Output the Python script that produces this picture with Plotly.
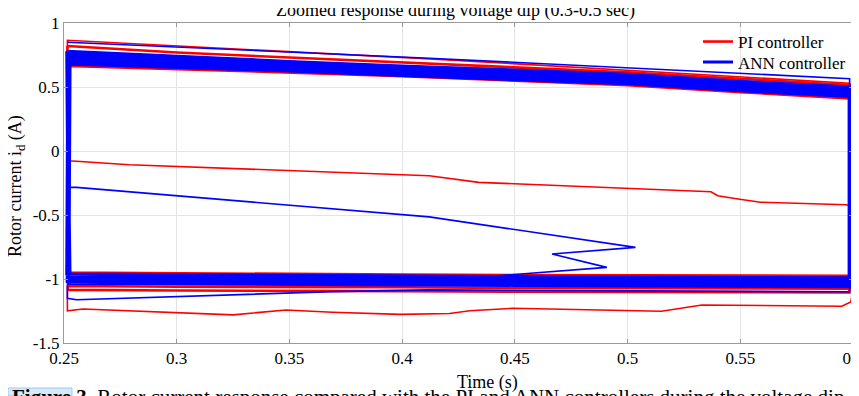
import plotly.graph_objects as go

# ---------------- data ----------------
x_tick_vals = [0.25, 0.3, 0.35, 0.4, 0.45, 0.5, 0.55, 0.6]
x_tick_text = ["0.25", "0.3", "0.35", "0.4", "0.45", "0.5", "0.55", "0.6"]
y_tick_vals = [-1.5, -1.0, -0.5, 0.0, 0.5, 1.0]
y_tick_text = ["-1.5", "-1", "-0.5", "0", "0.5", "1"]

# inner time knots of the repeated sweeps (s)
sweep_mid_t = [0.30, 0.35, 0.40, 0.45, 0.50, 0.55]

# ANN controller sweeps: start/end times and upper/lower current traces (A)
ann_left_t = [0.2512, 0.2517, 0.2522, 0.2527, 0.2514, 0.2520]
ann_right_t = [0.5985, 0.5988, 0.5983, 0.5990, 0.5986, 0.5984]
ann_upper = [
    [0.78, 0.74, 0.70, 0.665, 0.63, 0.60, 0.545, 0.50],
    [0.76, 0.72, 0.685, 0.65, 0.615, 0.585, 0.53, 0.485],
    [0.74, 0.70, 0.67, 0.635, 0.60, 0.57, 0.515, 0.47],
    [0.72, 0.685, 0.655, 0.62, 0.585, 0.555, 0.50, 0.455],
    [0.70, 0.67, 0.64, 0.605, 0.57, 0.54, 0.485, 0.44],
    [0.68, 0.655, 0.625, 0.59, 0.555, 0.525, 0.47, 0.425],
]
ann_lower = [
    [-0.96, -0.965, -0.97, -0.975, -0.98, -0.985, -0.99, -0.99],
    [-0.975, -0.98, -0.985, -0.99, -0.995, -1.0, -1.005, -1.005],
    [-0.99, -0.995, -1.0, -1.005, -1.01, -1.015, -1.02, -1.02],
    [-1.005, -1.01, -1.015, -1.02, -1.025, -1.03, -1.035, -1.035],
    [-1.02, -1.025, -1.03, -1.035, -1.04, -1.045, -1.05, -1.05],
    [-1.035, -1.04, -1.04, -1.045, -1.05, -1.055, -1.06, -1.06],
]

# PI controller sweeps: start/end times and upper/lower current traces (A)
pi_left_t = [0.2515, 0.2519, 0.2523, 0.2517]
pi_right_t = [0.5985, 0.5983, 0.5987, 0.5984]
pi_upper = [
    [0.82, 0.77, 0.73, 0.69, 0.65, 0.615, 0.565, 0.515],
    [0.75, 0.715, 0.68, 0.645, 0.61, 0.575, 0.525, 0.475],
    [0.69, 0.66, 0.63, 0.60, 0.565, 0.53, 0.48, 0.435],
    [0.665, 0.64, 0.615, 0.585, 0.55, 0.515, 0.46, 0.41],
]
pi_lower = [
    [-0.95, -0.955, -0.96, -0.965, -0.97, -0.975, -0.975, -0.975],
    [-1.0, -1.005, -1.01, -1.01, -1.015, -1.02, -1.02, -1.02],
    [-1.055, -1.06, -1.065, -1.065, -1.07, -1.07, -1.075, -1.075],
    [-1.085, -1.09, -1.095, -1.095, -1.10, -1.10, -1.105, -1.105],
]

# PI controller single excursions (thin path)
pi_path_t = [0.2515, 0.2515, 0.2585, 0.325, 0.3485, 0.369, 0.399, 0.421, 0.430,
             0.449, 0.515, 0.533, 0.595, 0.599, 0.5995, 0.5995, 0.597, 0.559,
             0.549, 0.540, 0.537, 0.434, 0.412, 0.310, 0.279, 0.2556, 0.252,
             0.2515, 0.2515, 0.412, 0.5985, 0.5985]
pi_path_i = [-1.10, -1.248, -1.234, -1.28, -1.242, -1.26, -1.276, -1.27, -1.248,
             -1.229, -1.252, -1.203, -1.213, -1.18, -1.13, -0.43, -0.42, -0.40,
             -0.375, -0.349, -0.318, -0.245, -0.193, -0.128, -0.107, -0.08, -0.076,
             -0.076, 0.865, 0.72, 0.53, 0.45]

# ANN controller single excursions (thin path, None = break)
ann_path_t = [0.2515, 0.412, 0.5985, 0.5985, None,
              0.2515, 0.2556, 0.412, 0.5035, 0.4665, 0.4908, 0.431, None,
              0.2515, 0.2515, 0.2556, 0.31, 0.369, 0.412, 0.50, 0.5985, 0.5985]
ann_path_i = [0.85, 0.725, 0.565, 0.50, None,
              -0.284, -0.284, -0.515, -0.753, -0.805, -0.909, -0.99, None,
              -1.05, -1.151, -1.162, -1.13, -1.099, -1.085, -1.09, -1.10, -1.0]

RED = "rgb(255,0,0)"
BLUE = "rgb(0,0,255)"
SERIF = "Liberation Serif"


def sweep_path(left, right, upper, lower):
    xs, ys = [], []
    for lt, rt, up, lo in zip(left, right, upper, lower):
        knots = [lt] + sweep_mid_t + [rt]
        xs += knots + knots[::-1]
        ys += up + lo[::-1]
    xs.append(left[0])
    ys.append(upper[0][0])
    return xs, ys


fig = go.Figure()

px, py = sweep_path(pi_left_t, pi_right_t, pi_upper, pi_lower)
fig.add_trace(go.Scatter(x=px, y=py, mode="lines", name="PI controller",
                         line=dict(color=RED, width=2.6), legend="legend"))
fig.add_trace(go.Scatter(x=pi_path_t, y=pi_path_i, mode="lines", showlegend=False,
                         line=dict(color=RED, width=1.6)))

ax, ay = sweep_path(ann_left_t, ann_right_t, ann_upper, ann_lower)
fig.add_trace(go.Scatter(x=ax, y=ay, mode="lines", name="ANN controller",
                         line=dict(color=BLUE, width=3), legend="legend2"))
fig.add_trace(go.Scatter(x=ann_path_t, y=ann_path_i, mode="lines", showlegend=False,
                         connectgaps=False, line=dict(color=BLUE, width=1.6)))

# page geometry (the page body adds an 8 px offset)
OFF = 8
W, H = 859 - OFF, 396 - OFF
PL, PR, PT, PB = 64, 853, 23, 343          # plot box in page pixels
pw, ph = PR - PL, PB - PT


def px_x(p):
    return (p - PL) / pw


def px_y(p):
    return (PB - p) / ph


def axis_style():
    return dict(
        showline=True, linecolor="#9a9a9a", linewidth=1, mirror="ticks",
        ticks="inside", ticklen=4, tickcolor="#9a9a9a",
        showgrid=True, gridcolor="#e4e4e4", gridwidth=1, zeroline=False,
        automargin=False,
        tickfont=dict(family=SERIF, size=17, color="black"),
    )


def legend_style(x, y):
    return dict(x=x, y=y, xanchor="left", yanchor="middle",
                bgcolor="rgba(0,0,0,0)", borderwidth=0, itemwidth=30,
                font=dict(family=SERIF, size=17, color="black"))


fig.update_layout(
    width=W, height=H,
    margin=dict(l=PL - OFF, r=W + OFF - PR, t=PT - OFF, b=H + OFF - PB),
    paper_bgcolor="white", plot_bgcolor="white",
    font=dict(family=SERIF, size=17, color="black"),
    xaxis=dict(range=[0.25, 0.6], tickvals=x_tick_vals, ticktext=x_tick_text,
               ticklabeloverflow="allow", **axis_style()),
    yaxis=dict(range=[-1.5, 1.0], tickvals=y_tick_vals, ticktext=y_tick_text,
               **axis_style()),
    legend=legend_style(px_x(698), px_y(42)),
    legend2=legend_style(px_x(698), px_y(62.5)),
    showlegend=True,
)

fig.add_annotation(text="Zoomed response during voltage dip (0.3-0.5 sec)",
                   xref="paper", yref="paper", x=px_x(455), y=px_y(11),
                   xanchor="center", yanchor="middle", showarrow=False,
                   font=dict(family=SERIF, size=18, color="black"))
fig.add_annotation(text="Time (s)", xref="paper", yref="paper",
                   x=px_x(487), y=px_y(382), xanchor="center", yanchor="middle",
                   showarrow=False, font=dict(family=SERIF, size=18, color="black"))
fig.add_annotation(text="Rotor current i<sub>d</sub> (A)", xref="paper", yref="paper",
                   x=px_x(16), y=px_y(186), xanchor="center", yanchor="middle",
                   textangle=-90, showarrow=False,
                   font=dict(family=SERIF, size=18, color="black"))

# caption strip (cut off at the bottom of the picture)
fig.add_shape(type="rect", xref="paper", yref="paper",
              x0=px_x(8), x1=px_x(72), y0=px_y(396), y1=px_y(388),
              fillcolor="#d6eafc", line=dict(color="#9cc7ee", width=1), layer="below")
fig.add_annotation(text="<b>Figure 3.</b> Rotor current response compared with the PI and ANN controllers during the voltage dip",
                   xref="paper", yref="paper", x=px_x(10), y=px_y(397),
                   xanchor="left", yanchor="middle", showarrow=False,
                   font=dict(family=SERIF, size=21, color="black"))

fig.write_html("out.html")
